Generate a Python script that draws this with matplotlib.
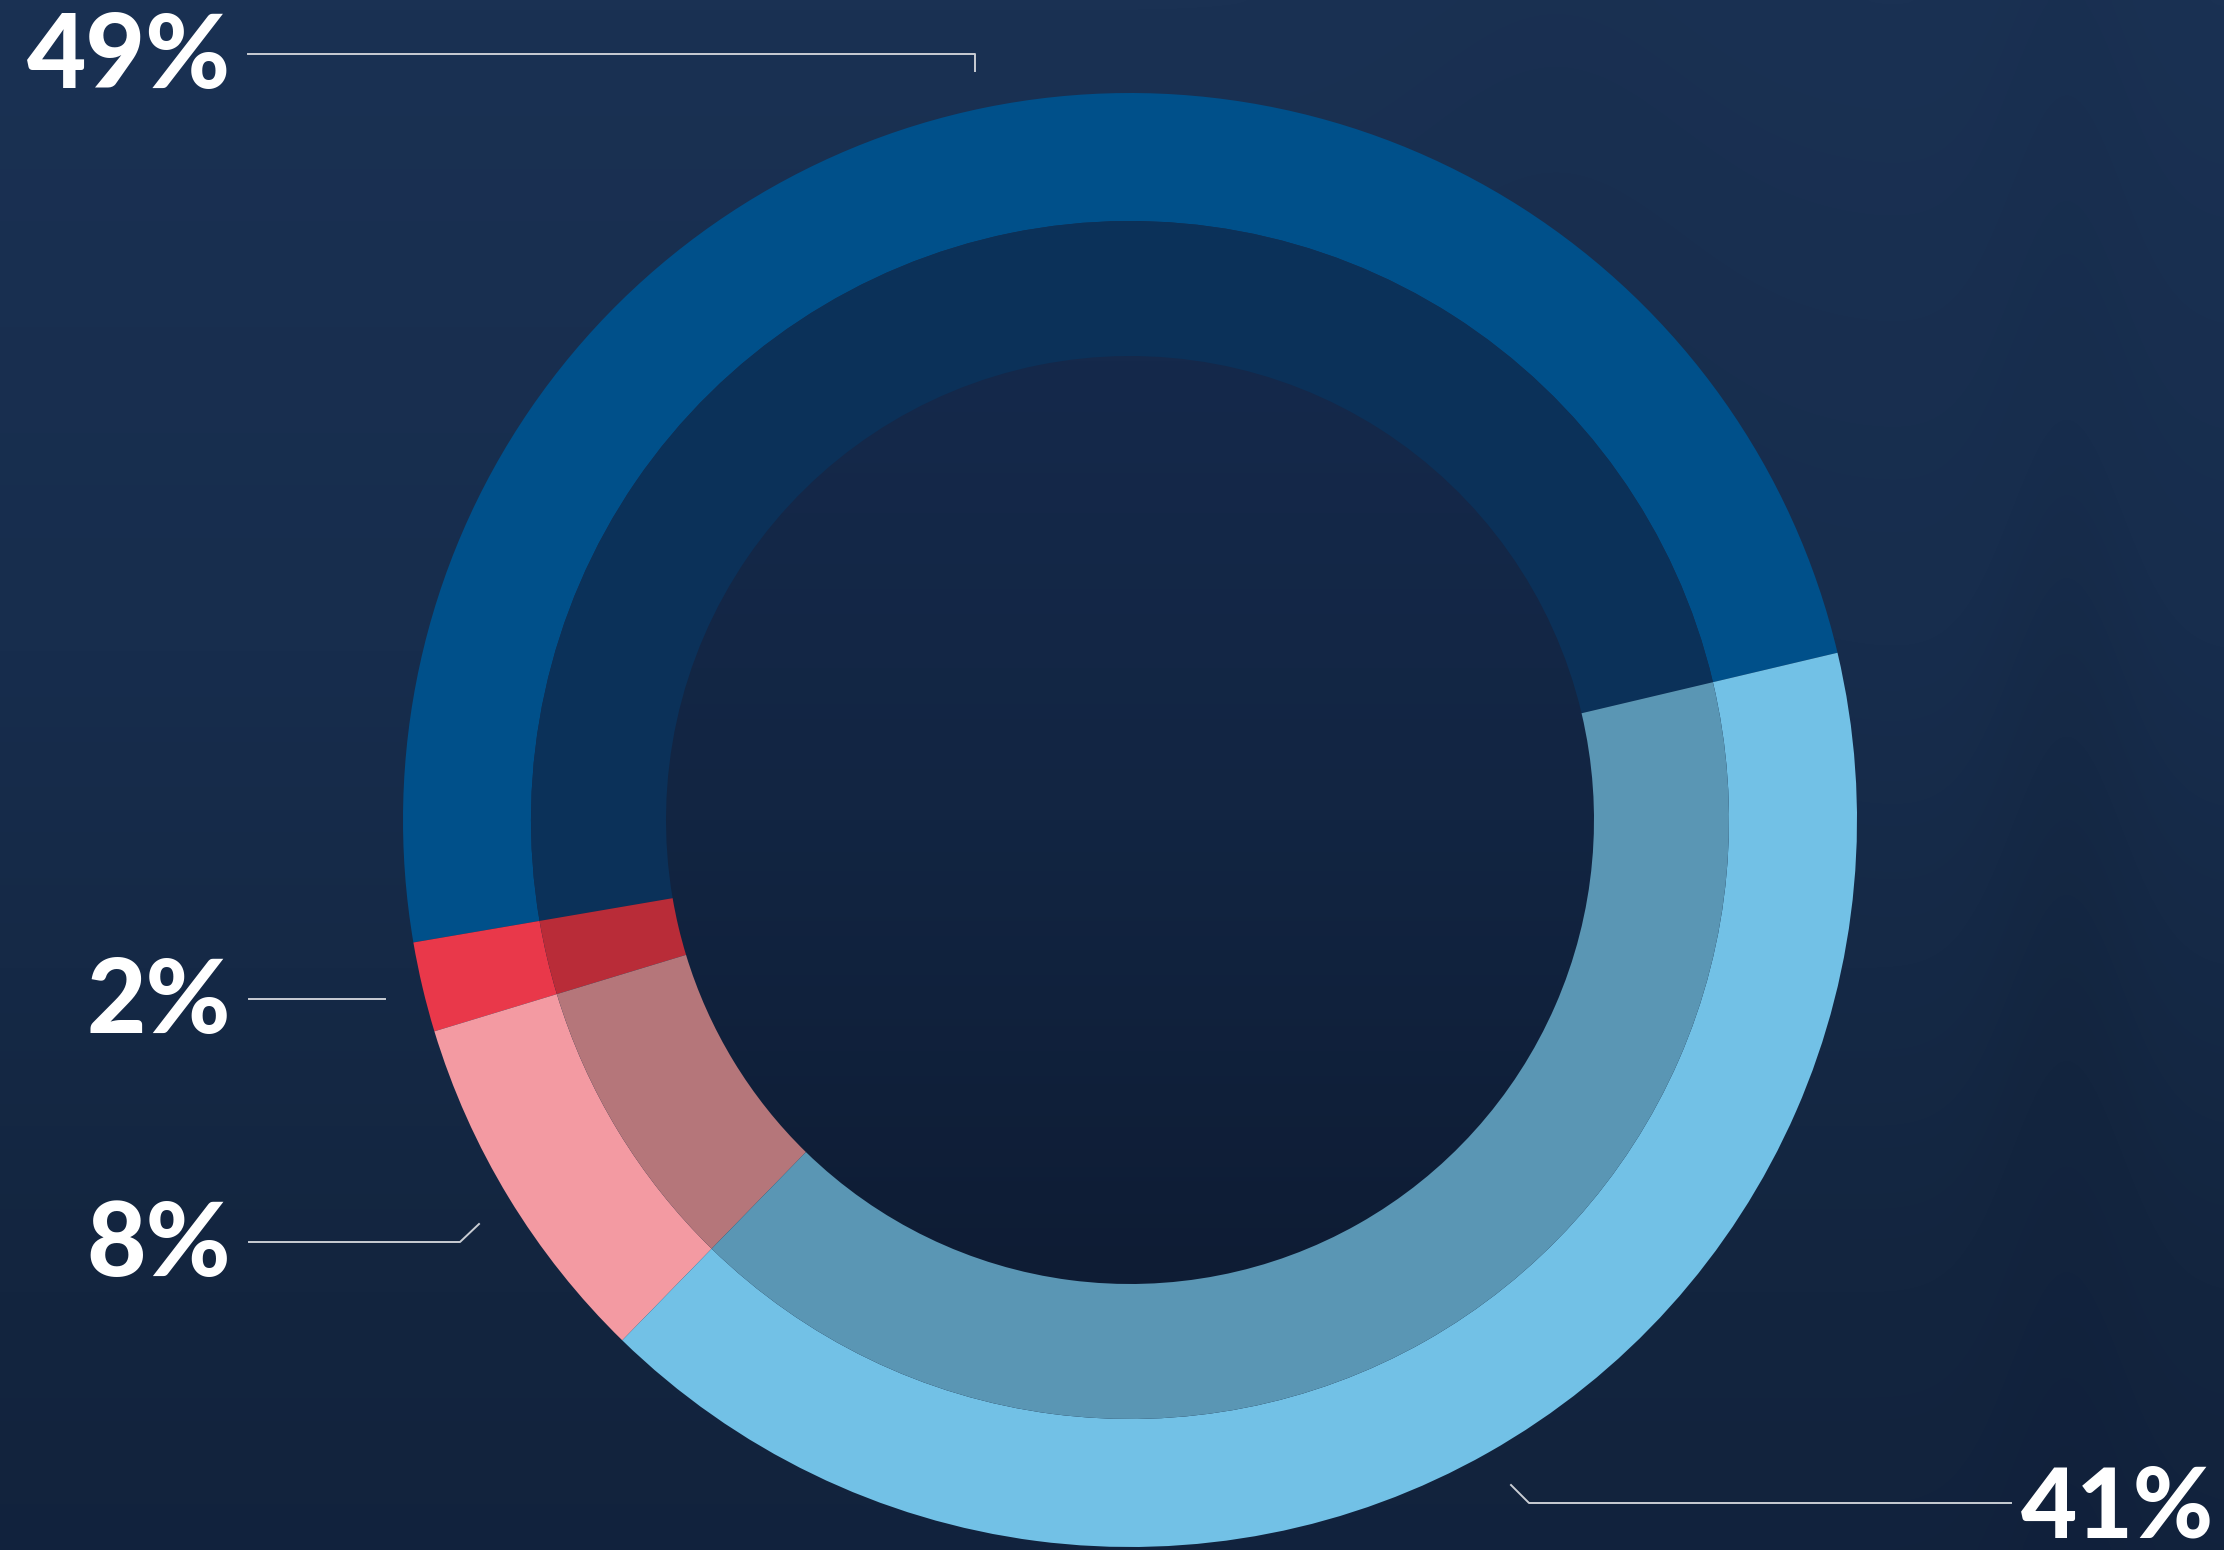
import numpy as np
import matplotlib
matplotlib.use("Agg")
import matplotlib.pyplot as plt
from matplotlib.colors import LinearSegmentedColormap
from matplotlib.patches import Circle

W, H = 2224, 1550

# shares, in drawing order (counter-clockwise from the right)
labels = ["49%", "2%", "8%", "41%"]
shares = [49, 2, 8, 41]
outer_colors = ["#00508A", "#E9384A", "#F39AA2", "#72C1E6"]
inner_colors = ["#0B3159", "#B92C38", "#B5767A", "#5A96B4"]

cx, cy = 1130, 820
r_out, r_mid, r_in = 727, 599, 464

fig = plt.figure(figsize=(W / 100, H / 100), dpi=100)
ax = fig.add_axes([0, 0, 1, 1])

# background: vertical gradient + faint darker columns on the right (photo behind)
yy = np.linspace(0, 1, 300).reshape(-1, 1)
xx = np.linspace(0, 1, 600).reshape(1, -1)
bg = yy * 0.8 + 0.12 * np.exp(-((xx - 0.93) / 0.035) ** 2) + 0.08 * np.exp(-((xx - 0.7) / 0.08) ** 2) * (yy < 0.6)
cmap = LinearSegmentedColormap.from_list("bg", ["#1A3153", "#172D4D", "#13253F", "#101F3A"])
ax.imshow(bg, cmap=cmap, extent=[0, W, H, 0], aspect="auto", zorder=0,
          interpolation="bicubic", vmin=0, vmax=1)

# darker centre of the ring
cen = np.linspace(0, 1, 256).reshape(-1, 1) * np.ones((1, 2))
cmap_c = LinearSegmentedColormap.from_list("cen", ["#15294B", "#122542", "#0E1C34"])
im = ax.imshow(cen, cmap=cmap_c, extent=[cx - r_in, cx + r_in, cy + r_in, cy - r_in],
               aspect="auto", zorder=1, interpolation="bicubic")
clip = Circle((cx, cy), r_in + 2, transform=ax.transData)
im.set_clip_path(clip)

# y axis inverted -> clockwise in data = counter-clockwise on screen
ax.pie(shares, colors=outer_colors, radius=r_out, center=(cx, cy),
       startangle=-13.3, counterclock=False, frame=True,
       wedgeprops=dict(width=r_out - r_mid, linewidth=0, zorder=2))
ax.pie(shares, colors=inner_colors, radius=r_mid, center=(cx, cy),
       startangle=-13.3, counterclock=False, frame=True,
       wedgeprops=dict(width=r_mid - r_in, linewidth=0, zorder=2))

ax.set_xlim(0, W)
ax.set_ylim(H, 0)
ax.set_aspect("auto")
ax.axis("off")

lc = "#C9CDD4"
lw = 1.4
# leader lines
ax.plot([248, 975, 975], [54, 54, 71], color=lc, lw=lw, zorder=3)
ax.plot([249, 385], [999, 999], color=lc, lw=lw, zorder=3)
ax.plot([249, 460, 479], [1242, 1242, 1224], color=lc, lw=lw, zorder=3)
ax.plot([2011, 1529, 1511], [1503, 1503, 1485], color=lc, lw=lw, zorder=3)

font = dict(family="Lato", weight="black", color="white", zorder=4)
ax.text(231, 88, labels[0], ha="right", va="baseline", fontsize=74, **font)
ax.text(231, 1033, labels[1], ha="right", va="baseline", fontsize=74, **font)
ax.text(231, 1276, labels[2], ha="right", va="baseline", fontsize=74, **font)
ax.text(2214, 1537, labels[3], ha="right", va="baseline", fontsize=70, **font)

fig.savefig("out.png", dpi=100)
